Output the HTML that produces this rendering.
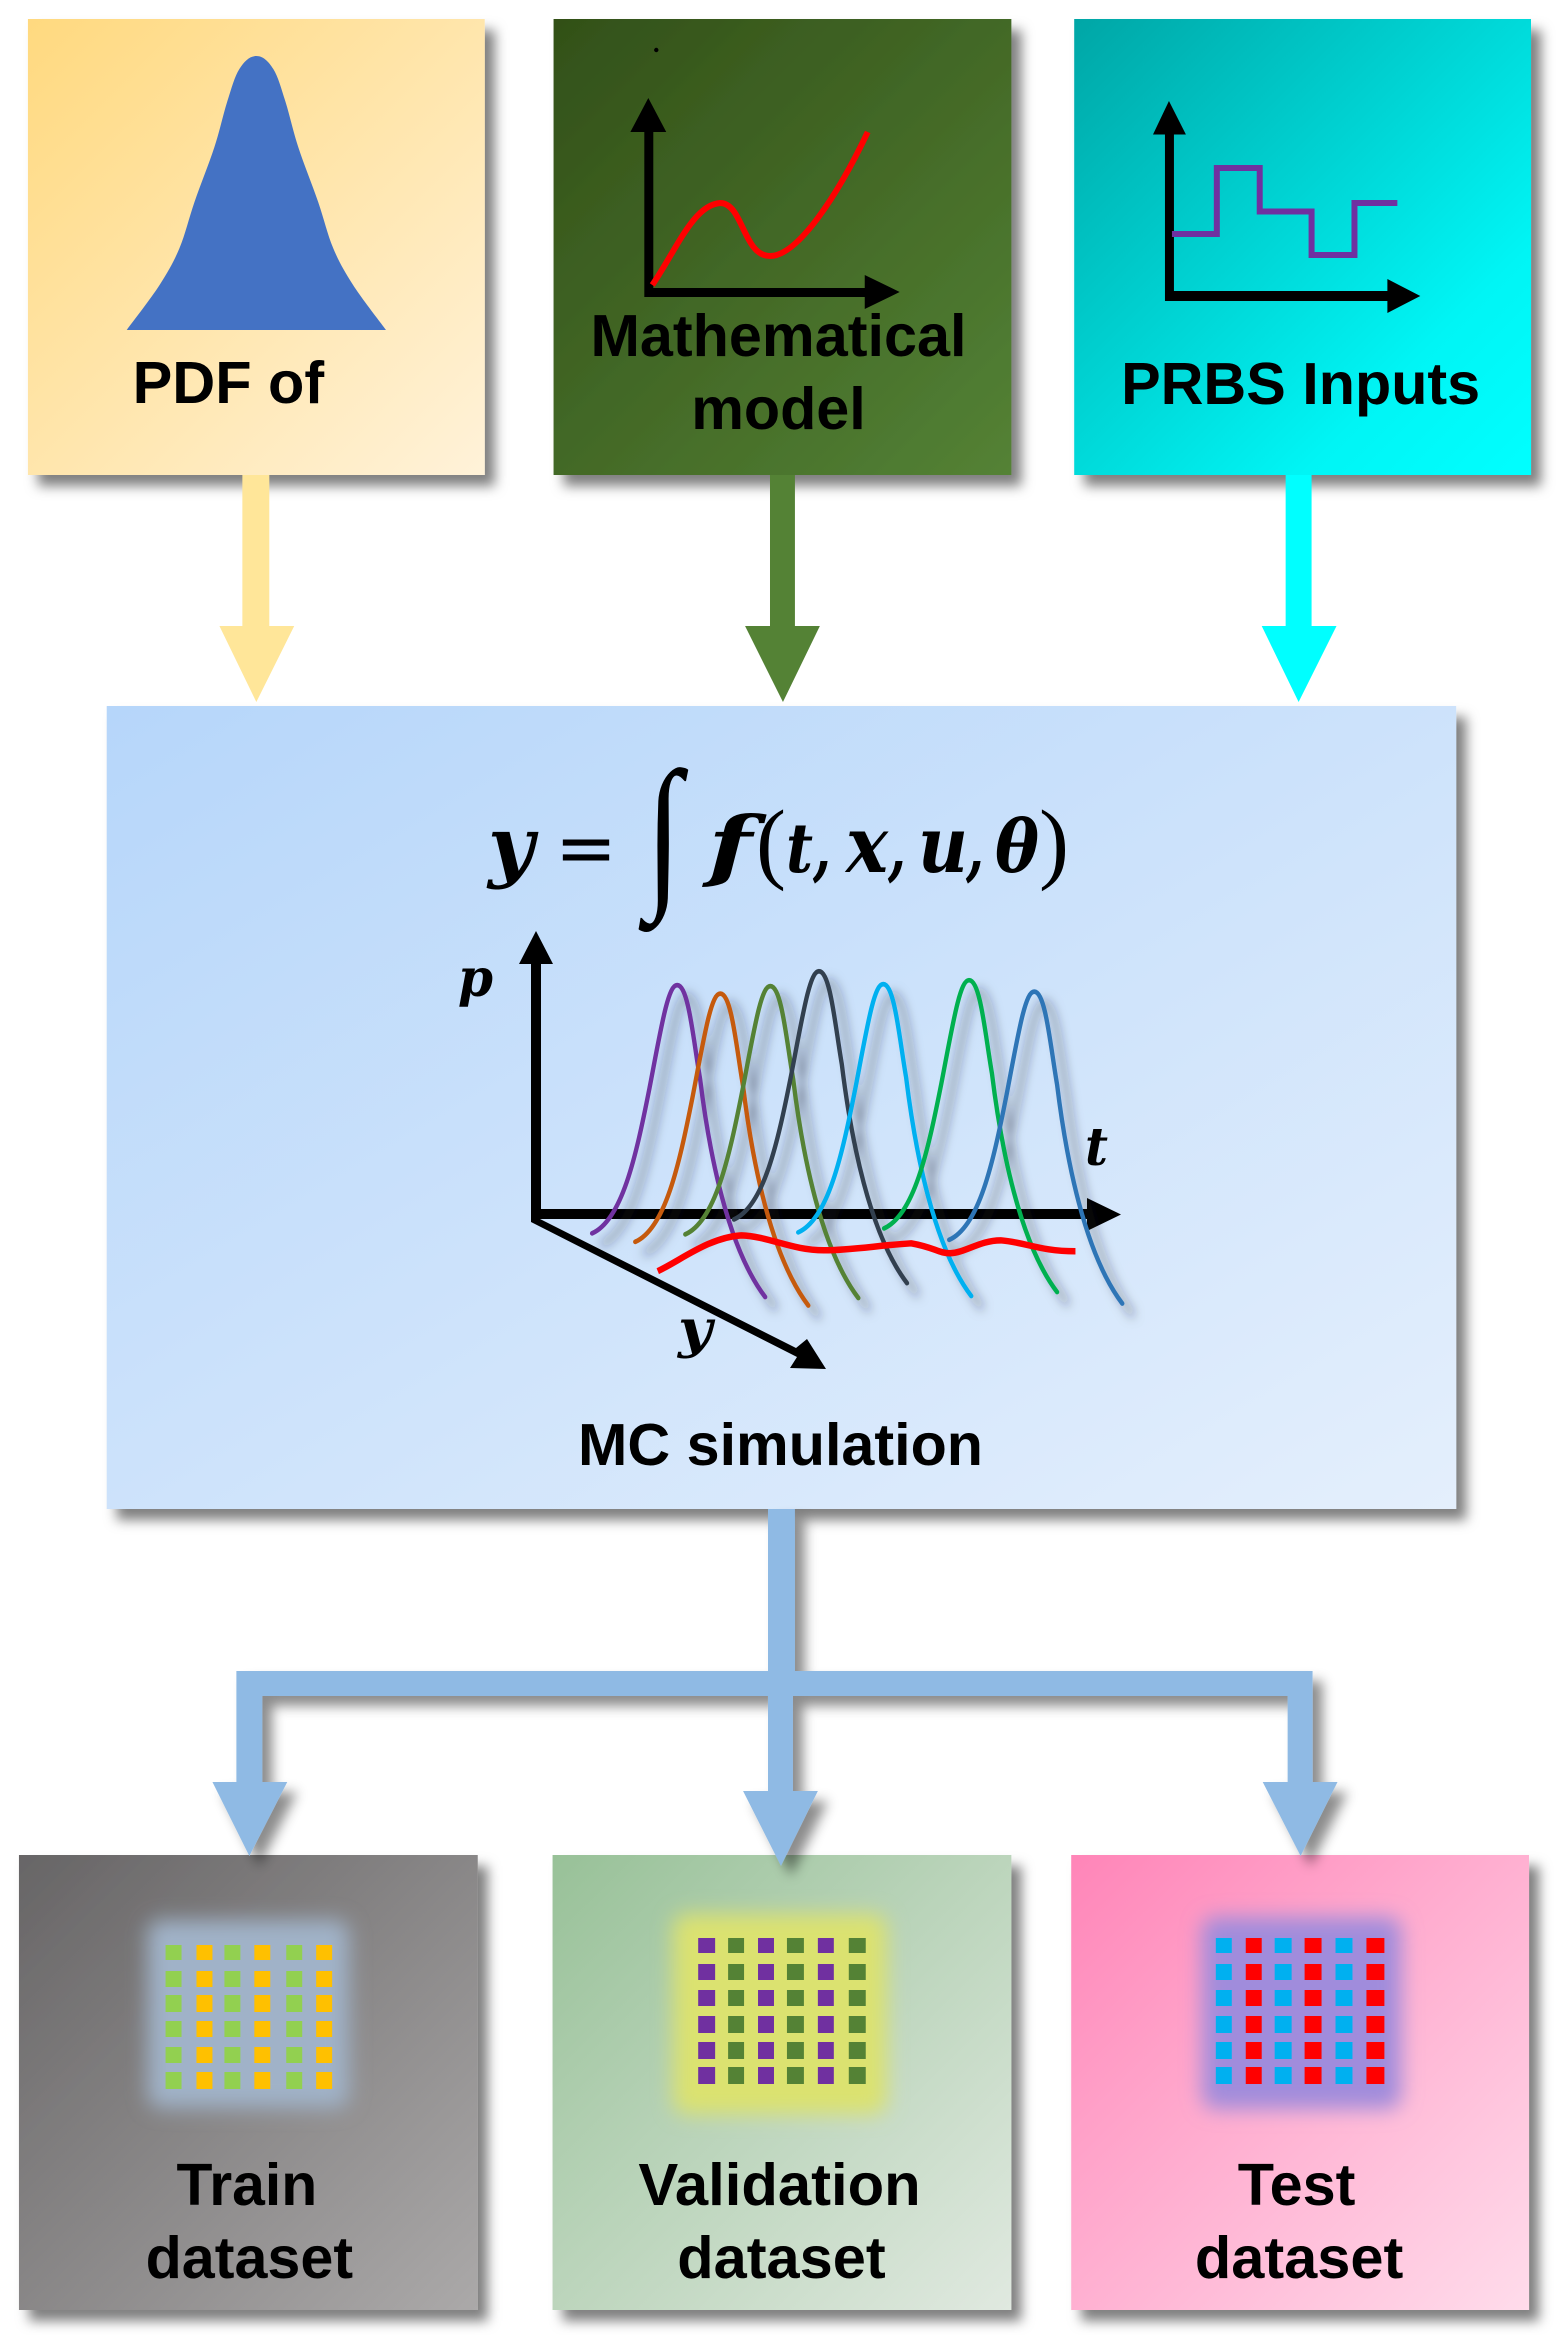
<!DOCTYPE html>
<html lang="en">
<head>
<meta charset="utf-8">
<title>MC simulation dataset diagram</title>
<style>
html,body{margin:0;padding:0;background:#fff;}
svg{display:block;}
.l{font-family:"Liberation Sans",sans-serif;font-weight:bold;font-size:59px;fill:#000;}
.m{font-family:"DejaVu Serif",serif;font-weight:bold;font-style:italic;fill:#000;}
.r{font-family:"Liberation Serif",serif;font-weight:normal;font-style:normal;fill:#000;}
</style>
</head>
<body>
<svg xmlns="http://www.w3.org/2000/svg" width="1564" height="2335" viewBox="0 0 1564 2335">
<defs>
<linearGradient id="g1" x1="0" y1="0" x2="1" y2="1"><stop offset="0" stop-color="#FFD97F"/><stop offset="1" stop-color="#FFF2D9"/></linearGradient>
<linearGradient id="g2" x1="0" y1="0" x2="1" y2="1"><stop offset="0" stop-color="#325018"/><stop offset="1" stop-color="#548235"/></linearGradient>
<linearGradient id="g3" x1="0" y1="0" x2="1" y2="1"><stop offset="0" stop-color="#00A6A6"/><stop offset=".75" stop-color="#00F5F5"/><stop offset="1" stop-color="#00FFFF"/></linearGradient>
<linearGradient id="g4" x1="0" y1="0" x2="1" y2="1"><stop offset="0" stop-color="#B6D6FA"/><stop offset="1" stop-color="#E4EFFC"/></linearGradient>
<linearGradient id="g5" x1="0" y1="0" x2="1" y2="1"><stop offset="0" stop-color="#676566"/><stop offset="1" stop-color="#ABA9A9"/></linearGradient>
<linearGradient id="g6" x1="0" y1="0" x2="1" y2="1"><stop offset="0" stop-color="#98C198"/><stop offset="1" stop-color="#E0E9E0"/></linearGradient>
<linearGradient id="g7" x1="0" y1="0" x2="1" y2="1"><stop offset="0" stop-color="#FF85B8"/><stop offset="1" stop-color="#FFDCEB"/></linearGradient>
<filter id="sh" x="-10%" y="-10%" width="125%" height="125%"><feDropShadow dx="10" dy="11" stdDeviation="6" flood-color="#000" flood-opacity=".5"/></filter>
<filter id="sa" x="-30%" y="-10%" width="160%" height="125%"><feDropShadow dx="10" dy="10" stdDeviation="6" flood-color="#000" flood-opacity=".45"/></filter>
<filter id="sc" x="-30%" y="-30%" width="170%" height="170%"><feDropShadow dx="22" dy="22" stdDeviation="11" flood-color="#223" flood-opacity=".5"/></filter>
<filter id="bl" x="-30%" y="-30%" width="160%" height="160%"><feGaussianBlur stdDeviation="10"/></filter>
</defs>

<g transform="scale(.9974 1)">
<!-- top boxes -->
<rect x="28" y="19" width="458" height="456" fill="url(#g1)" filter="url(#sh)"/>
<rect x="555" y="19" width="459" height="456" fill="url(#g2)" filter="url(#sh)"/>
<rect x="1077" y="19" width="458" height="456" fill="url(#g3)" filter="url(#sh)"/>

<!-- top arrows -->
<path d="M243 475H270V626H295L257 702L220 626H243Z" fill="#FFE699"/>
<path d="M772 475H797V626H822L785 702L747 626H772Z" fill="#548235"/>
<path d="M1289 475H1315V626H1340L1302 702L1265 626H1289Z" fill="#00FFFF"/>

<!-- bell -->
<path d="M127 330 C132.500 322.500 151.200 298.700 160 285 C168.800 271.300 174.200 261.800 180 248 C185.800 234.200 189.200 218.800 195 202 C200.800 185.200 209.500 163.800 215 147 C220.500 130.200 223.800 114 228 101 C232.200 88 235.200 76.500 240 69 C244.800 61.500 250 56 257 56 C264 56 269.200 61.500 274 69 C278.800 76.500 281.800 88 286 101 C290.200 114 293.500 130.200 299 147 C304.500 163.800 313.200 185.200 319 202 C324.800 218.800 328.200 234.200 334 248 C339.800 261.800 345.200 271.300 354 285 C362.800 298.700 381.500 322.500 387 330Z" fill="#4472C4"/>
<text class="l" x="133" y="403" textLength="192" lengthAdjust="spacingAndGlyphs">PDF of</text>

<!-- math model -->
<circle cx="658" cy="50" r="2.200" fill="#000"/>
<path d="M646 132H632L650 98L668 132H655V288H867V275L902 292L867 309V297H646Z" fill="#000"/>
<path d="M654 285 C678 250 695 205 722 203 C745 203 745 256 772 256 C800 256 840 195 870 132" fill="none" stroke="#f00" stroke-width="6"/>
<text class="l" x="592" y="356" textLength="377" lengthAdjust="spacingAndGlyphs">Mathematical</text>
<text class="l" x="693" y="429" textLength="175" lengthAdjust="spacingAndGlyphs">model</text>

<!-- PRBS -->
<path d="M1168 134.500H1156L1172 101L1189 134.500H1177V291H1391V279L1424 296L1391 313V301H1168Z" fill="#000"/>
<path d="M1175 234H1220V168H1263V211.500H1315V255H1358V203H1401" fill="none" stroke="#7030A0" stroke-width="6"/>
<text class="l" x="1124" y="404" textLength="360" lengthAdjust="spacingAndGlyphs">PRBS Inputs</text>

<!-- MC box -->
<rect x="107" y="706" width="1353" height="803" fill="url(#g4)" filter="url(#sh)"/>
</g>

<!-- formula -->
<text class="m" font-size="78" x="488" y="872" textLength="46" lengthAdjust="spacingAndGlyphs">y</text>
<text font-family="DejaVu Sans" font-size="74" x="555" y="873" fill="#000">=</text>
<text class="r" font-size="168" x="645.500" y="887" textLength="36" lengthAdjust="spacingAndGlyphs">∫</text>
<text class="m" font-size="78" x="708" y="872" textLength="44" lengthAdjust="spacingAndGlyphs">f</text>
<text class="r" font-size="90" x="756" y="872">(</text>
<text class="m" font-size="68" x="786" y="872" textLength="27" lengthAdjust="spacingAndGlyphs" font-weight="normal">t</text>
<text class="m" font-size="70" x="813" y="872" textLength="18" lengthAdjust="spacingAndGlyphs">,</text>
<text class="m" font-size="78" x="846" y="872" textLength="42" lengthAdjust="spacingAndGlyphs">x</text>
<text class="m" font-size="70" x="888" y="872" textLength="18" lengthAdjust="spacingAndGlyphs">,</text>
<text class="m" font-size="78" x="918" y="872" textLength="50" lengthAdjust="spacingAndGlyphs">u</text>
<text class="m" font-size="70" x="966" y="872" textLength="18" lengthAdjust="spacingAndGlyphs">,</text>
<text class="m" font-size="72" x="995" y="872" textLength="44" lengthAdjust="spacingAndGlyphs">θ</text>
<text class="r" font-size="90" x="1039" y="872">)</text>

<!-- chart axes -->
<path d="M531 1216V964H519L536 931L553 964H541V1209H1087V1198L1121 1214.500L1087 1231V1219H540L796 1348L807 1339L826 1369L790 1368L797 1357L531 1222Z" fill="#000"/>
<text class="m" font-size="52" x="458" y="996" textLength="35" lengthAdjust="spacingAndGlyphs">p</text>
<text class="m" font-size="52" x="1085" y="1165" textLength="23" lengthAdjust="spacingAndGlyphs">t</text>
<text class="m" font-size="52" x="678" y="1347" textLength="34" lengthAdjust="spacingAndGlyphs">y</text>

<!-- curves -->
<g transform="matrix(.459 0 0 .4974 420 730)" fill="none" stroke-width="9.500" stroke-linecap="round">
<g filter="url(#sc)">
<path stroke="#7030A0" d="M375 1012 C440 985 470 860 500 720 C525 600 540 513 560 513 C585 513 595 620 610 700 C630 850 670 1040 752 1140"/>
<path transform="translate(94 17)" stroke="#C55A11" d="M375 1012 C440 985 470 860 500 720 C525 600 540 513 560 513 C585 513 595 620 610 700 C630 850 670 1040 752 1140"/>
<path transform="translate(203 2)" stroke="#548235" d="M375 1012 C440 985 470 860 500 720 C525 600 540 513 560 513 C585 513 595 620 610 700 C630 850 670 1040 752 1140"/>
<path transform="translate(309 -28)" stroke="#333F50" d="M375 1012 C440 985 470 860 500 720 C525 600 540 513 560 513 C585 513 595 620 610 700 C630 850 670 1040 752 1140"/>
<path transform="translate(449 -2)" stroke="#00B0F0" d="M375 1012 C440 985 470 860 500 720 C525 600 540 513 560 513 C585 513 595 620 610 700 C630 850 670 1040 752 1140"/>
<path transform="translate(636 -10)" stroke="#00B050" d="M375 1012 C440 985 470 860 500 720 C525 600 540 513 560 513 C585 513 595 620 610 700 C630 850 670 1040 752 1140"/>
<path transform="translate(778 13)" stroke="#2E75B6" d="M375 1012 C440 985 470 860 500 720 C525 600 540 513 560 513 C585 513 595 620 610 700 C630 850 670 1040 752 1140"/>
</g>
<path stroke="#f00" stroke-width="13" stroke-linecap="butt" d="M518 1088 C570 1065 630 1020 700 1016 C760 1018 810 1046 880 1046 C940 1046 1000 1036 1070 1032 C1120 1040 1130 1052 1155 1052 C1190 1050 1220 1026 1265 1026 C1320 1030 1350 1048 1428 1048"/>
</g>
<text class="l" x="578" y="1465" textLength="405" lengthAdjust="spacingAndGlyphs">MC simulation</text>

<g transform="scale(.9974 1)">
<!-- bottom boxes -->
<rect x="19" y="1855" width="460" height="455" fill="url(#g5)" filter="url(#sh)"/>
<rect x="554" y="1855" width="460" height="455" fill="url(#g6)" filter="url(#sh)"/>
<rect x="1074" y="1855" width="459" height="455" fill="url(#g7)" filter="url(#sh)"/>

<!-- bottom arrows -->
<path d="M770 1509H797V1671H1316V1782H1341L1304 1856L1266 1782H1291V1696H795V1791H820L783 1866L745 1791H770V1696H263V1782H288L250 1856L213 1782H237V1671H770Z" fill="#8FBAE4" filter="url(#sa)"/>

<!-- glows -->
<rect x="148" y="1920" width="202" height="188" rx="14" fill="#A0B2C8" filter="url(#bl)"/>
<rect x="675" y="1914" width="214" height="200" rx="14" fill="#DBE270" filter="url(#bl)"/>
<rect x="1205" y="1917" width="200" height="192" rx="14" fill="#A08CDC" filter="url(#bl)"/>

<!-- train dots -->
<path fill="#92D050" d="M166 1945h16v15h-16zM225 1945h16v15h-16zM287 1945h16v15h-16zM166 1971h16v16h-16zM225 1971h16v16h-16zM287 1971h16v16h-16zM166 1995h16v17h-16zM225 1995h16v17h-16zM287 1995h16v17h-16zM166 2021h16v16h-16zM225 2021h16v16h-16zM287 2021h16v16h-16zM166 2047h16v16h-16zM225 2047h16v16h-16zM287 2047h16v16h-16zM166 2072h16v17h-16zM225 2072h16v17h-16zM287 2072h16v17h-16z"/>
<path fill="#FFC000" d="M197 1945h16v15h-16zM255 1945h16v15h-16zM317 1945h16v15h-16zM197 1971h16v16h-16zM255 1971h16v16h-16zM317 1971h16v16h-16zM197 1995h16v17h-16zM255 1995h16v17h-16zM317 1995h16v17h-16zM197 2021h16v16h-16zM255 2021h16v16h-16zM317 2021h16v16h-16zM197 2047h16v16h-16zM255 2047h16v16h-16zM317 2047h16v16h-16zM197 2072h16v17h-16zM255 2072h16v17h-16zM317 2072h16v17h-16z"/>

<!-- validation dots -->
<path fill="#7030A0" d="M700 1938h17v15h-17zM760 1938h16v15h-16zM820 1938h16v15h-16zM700 1964h17v16h-17zM760 1964h16v16h-16zM820 1964h16v16h-16zM700 1990h17v16h-17zM760 1990h16v16h-16zM820 1990h16v16h-16zM700 2016h17v17h-17zM760 2016h16v17h-16zM820 2016h16v17h-16zM700 2042h17v17h-17zM760 2042h16v17h-16zM820 2042h16v17h-16zM700 2067h17v17h-17zM760 2067h16v17h-16zM820 2067h16v17h-16z"/>
<path fill="#548235" d="M730 1938h16v15h-16zM789 1938h17v15h-17zM851 1938h17v15h-17zM730 1964h16v16h-16zM789 1964h17v16h-17zM851 1964h17v16h-17zM730 1990h16v16h-16zM789 1990h17v16h-17zM851 1990h17v16h-17zM730 2016h16v17h-16zM789 2016h17v17h-17zM851 2016h17v17h-17zM730 2042h16v17h-16zM789 2042h17v17h-17zM851 2042h17v17h-17zM730 2067h16v17h-16zM789 2067h17v17h-17zM851 2067h17v17h-17z"/>

<!-- test dots -->
<path fill="#00B0F0" d="M1219 1938h16v15h-16zM1278 1938h17v15h-17zM1339 1938h17v15h-17zM1219 1964h16v16h-16zM1278 1964h17v16h-17zM1339 1964h17v16h-17zM1219 1990h16v16h-16zM1278 1990h17v16h-17zM1339 1990h17v16h-17zM1219 2016h16v17h-16zM1278 2016h17v17h-17zM1339 2016h17v17h-17zM1219 2042h16v17h-16zM1278 2042h17v17h-17zM1339 2042h17v17h-17zM1219 2067h16v17h-16zM1278 2067h17v17h-17zM1339 2067h17v17h-17z"/>
<path fill="#FF0000" d="M1249 1938h16v15h-16zM1308 1938h17v15h-17zM1370 1938h18v15h-18zM1249 1964h16v16h-16zM1308 1964h17v16h-17zM1370 1964h18v16h-18zM1249 1990h16v16h-16zM1308 1990h17v16h-17zM1370 1990h18v16h-18zM1249 2016h16v17h-16zM1308 2016h17v17h-17zM1370 2016h18v17h-18zM1249 2042h16v17h-16zM1308 2042h17v17h-17zM1370 2042h18v17h-18zM1249 2067h16v17h-16zM1308 2067h17v17h-17zM1370 2067h18v17h-18z"/>

<!-- bottom labels -->
<text class="l" x="177" y="2205" textLength="141" lengthAdjust="spacingAndGlyphs">Train</text>
<text class="l" x="146" y="2278" textLength="208" lengthAdjust="spacingAndGlyphs">dataset</text>
<text class="l" x="640" y="2205" textLength="283" lengthAdjust="spacingAndGlyphs">Validation</text>
<text class="l" x="679" y="2278" textLength="209" lengthAdjust="spacingAndGlyphs">dataset</text>
<text class="l" x="1241" y="2205" textLength="118" lengthAdjust="spacingAndGlyphs">Test</text>
<text class="l" x="1198" y="2278" textLength="209" lengthAdjust="spacingAndGlyphs">dataset</text>
</g>
</svg>
</body>
</html>
